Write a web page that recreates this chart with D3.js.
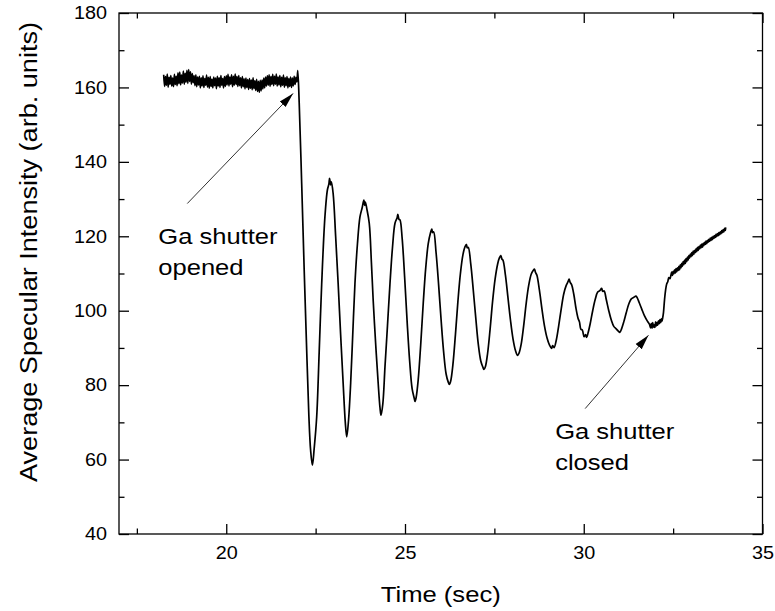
<!DOCTYPE html>
<html>
<head>
<meta charset="utf-8">
<script src="https://cdn.jsdelivr.net/npm/d3@7"></script>
<style>
  html, body { margin: 0; padding: 0; background: #fff; }
  svg { display: block; font-family: "Liberation Sans", Arial, sans-serif; }
</style>
</head>
<body>
<svg id="chart" width="775" height="611"></svg>
<script>
// RHEED specular intensity during growth: [time (s), intensity (arb. units)]
const beforeOpening = [
  [18.250,163.4],[18.275,160.3],[18.300,162.9],[18.325,160.6],[18.350,163.6],[18.375,160.1],
  [18.400,162.7],[18.425,160.9],[18.450,163.2],[18.475,160.4],[18.500,162.5],[18.525,160.2],
  [18.550,163.5],[18.575,160.8],[18.600,163.0],[18.625,160.5],[18.650,163.9],[18.675,161.0],
  [18.700,164.1],[18.725,160.7],[18.750,163.3],[18.775,161.2],[18.800,164.4],[18.825,160.9],
  [18.850,163.8],[18.875,161.4],[18.900,164.6],[18.925,161.1],[18.950,164.8],[18.975,161.6],
  [19.000,164.2],[19.025,160.9],[19.050,163.7],[19.075,161.3],[19.100,163.1],[19.125,160.5],
  [19.150,163.4],[19.175,160.2],[19.200,162.8],[19.225,160.7],[19.250,163.0],[19.275,159.9],
  [19.300,162.6],[19.325,160.4],[19.350,163.1],[19.375,160.0],[19.400,162.4],[19.425,160.6],
  [19.450,163.3],[19.475,160.1],[19.500,162.7],[19.525,159.8],[19.550,162.9],[19.575,160.3],
  [19.600,162.2],[19.625,159.9],[19.650,162.8],[19.675,160.5],[19.700,162.5],[19.725,159.7],
  [19.750,163.0],[19.775,160.4],[19.800,162.6],[19.825,160.0],[19.850,163.2],[19.875,160.6],
  [19.900,162.4],[19.925,159.9],[19.950,162.9],[19.975,160.3],[20.000,163.1],[20.025,160.7],
  [20.050,163.5],[20.075,160.4],[20.100,162.8],[20.125,160.9],[20.150,163.4],[20.175,160.2],
  [20.200,163.0],[20.225,160.6],[20.250,163.6],[20.275,160.8],[20.300,162.9],[20.325,160.3],
  [20.350,163.2],[20.375,160.5],[20.400,162.6],[20.425,159.9],[20.450,162.9],[20.475,160.2],
  [20.500,162.3],[20.525,159.6],[20.550,162.5],[20.575,160.0],[20.600,162.1],[20.625,159.5],
  [20.650,162.4],[20.675,159.8],[20.700,162.0],[20.725,159.4],[20.750,162.6],[20.775,159.7],
  [20.800,161.8],[20.825,159.2],[20.850,162.2],[20.875,158.9],[20.900,161.6],[20.925,158.7],
  [20.950,161.9],[20.975,159.1],[21.000,162.0],[21.025,159.6],[21.050,162.5],[21.075,159.9],
  [21.100,162.8],[21.125,160.4],[21.150,163.1],[21.175,160.6],[21.200,163.4],[21.225,160.3],
  [21.250,162.9],[21.275,160.8],[21.300,163.5],[21.325,160.5],[21.350,163.0],[21.375,160.9],
  [21.400,163.6],[21.425,160.4],[21.450,162.8],[21.475,160.7],[21.500,163.2],[21.525,160.2],
  [21.550,162.7],[21.575,160.6],[21.600,163.3],[21.625,160.1],[21.650,162.6],[21.675,160.5],
  [21.700,162.9],[21.725,159.9],[21.750,162.4],[21.775,160.3],[21.800,162.8],[21.825,160.0],
  [21.850,162.5],[21.875,160.4],[21.900,163.0],[21.925,160.8],[21.950,162.7],[21.975,161.5],
  [22.000,164.5]
];

const growthOscillations = [
  [22.04,156.0],[22.11,134.2],[22.18,111.0],[22.25,89.4],[22.31,72.0],[22.36,62.5],
  [22.41,58.5],[22.46,63.0],[22.53,71.5],[22.60,89.0],[22.67,107.3],[22.76,125.2],
  [22.83,132.5],[22.87,134.0],[22.89,135.6],[22.92,133.8],[22.94,134.6],[22.99,131.5],
  [23.06,120.0],[23.13,107.3],[23.20,93.5],[23.27,80.5],[23.33,70.0],[23.37,66.1],
  [23.42,70.5],[23.48,80.5],[23.54,94.0],[23.60,107.3],[23.67,118.0],[23.74,125.2],
  [23.80,127.6],[23.85,129.7],[23.87,128.3],[23.89,129.2],[23.93,127.5],[24.00,123.5],
  [24.06,113.0],[24.11,102.8],[24.18,91.0],[24.25,80.5],[24.30,74.0],[24.33,71.9],
  [24.38,75.0],[24.44,84.9],[24.51,96.0],[24.58,107.3],[24.65,117.0],[24.72,123.5],
  [24.78,125.0],[24.80,125.9],[24.83,124.6],[24.86,124.4],[24.92,119.5],[24.99,109.0],
  [25.06,97.0],[25.13,86.5],[25.20,79.0],[25.26,76.4],[25.28,75.6],[25.31,76.6],
  [25.37,81.5],[25.44,91.0],[25.51,102.0],[25.58,111.5],[25.65,118.0],[25.71,120.8],
  [25.75,121.9],[25.77,121.0],[25.80,121.2],[25.87,115.5],[25.94,107.0],[26.01,97.5],
  [26.08,89.0],[26.15,83.0],[26.21,80.8],[26.24,80.2],[26.28,81.2],[26.34,85.5],
  [26.41,93.5],[26.48,102.5],[26.55,110.0],[26.62,115.0],[26.68,117.2],[26.72,117.8],
  [26.74,116.9],[26.77,117.0],[26.84,112.5],[26.91,105.5],[26.98,98.0],[27.05,91.0],
  [27.12,86.5],[27.18,84.8],[27.21,84.2],[27.25,85.0],[27.31,88.5],[27.38,95.0],
  [27.45,102.5],[27.52,108.5],[27.59,112.5],[27.64,114.2],[27.68,114.8],[27.71,113.9],
  [27.74,113.6],[27.81,109.5],[27.88,103.5],[27.95,97.5],[28.02,92.5],[28.09,89.3],
  [28.15,88.0],[28.19,88.6],[28.25,91.0],[28.32,96.0],[28.39,102.0],[28.46,106.8],
  [28.53,109.8],[28.59,110.9],[28.62,111.2],[28.65,110.3],[28.69,109.5],[28.76,105.5],
  [28.83,100.5],[28.90,96.0],[28.97,92.8],[29.04,90.8],[29.10,89.9],[29.13,90.6],
  [29.17,90.1],[29.23,92.0],[29.30,96.0],[29.37,100.5],[29.44,104.5],[29.51,106.8],
  [29.56,107.8],[29.59,108.5],[29.62,107.6],[29.66,107.0],[29.72,104.5],[29.78,100.8],
  [29.84,98.0],[29.88,97.0],[29.92,95.0],[29.96,94.8],[30.01,93.0],[30.05,93.6],
  [30.08,92.8],[30.12,94.0],[30.18,96.5],[30.25,100.0],[30.32,103.0],[30.39,105.0],
  [30.45,105.4],[30.50,106.0],[30.53,105.2],[30.57,105.3],[30.63,103.0],[30.70,100.0],
  [30.77,97.5],[30.84,95.8],[30.90,95.2],[30.96,94.6],[31.01,94.2],[31.06,95.2],
  [31.12,97.0],[31.19,99.5],[31.26,101.8],[31.33,103.2],[31.40,103.6],[31.46,103.9],
  [31.50,103.4],[31.55,102.2],[31.62,100.5],[31.70,98.6],[31.78,97.2],[31.84,96.3],
  [31.87,95.4],[31.89,96.6],[31.91,95.3],[31.93,96.8],[31.95,95.6],[31.97,96.2],
  [31.99,95.5],[32.01,97.0],[32.03,95.9],[32.05,96.9],[32.07,96.1],[32.09,97.3],
  [32.11,96.5],[32.13,97.6],[32.15,96.8],[32.17,97.8],[32.19,97.2],[32.21,98.2]
];

const afterClosing = [
  [32.23,99.5],[32.26,103.0],[32.29,105.6],[32.32,107.2],[32.35,107.8],[32.38,108.9],
  [32.41,108.6],[32.44,109.6],[32.46,110.4],[32.48,109.5],[32.50,110.6],[32.52,109.9],
  [32.54,111.0],[32.56,110.1],[32.58,111.3],[32.60,110.4],[32.62,111.5],[32.64,110.8],
  [32.66,111.9],[32.68,111.0],[32.70,112.3],[32.72,111.5],[32.74,112.7],[32.76,111.9],
  [32.78,113.2],[32.80,112.4],[32.82,113.6],[32.84,112.7],[32.86,114.0],[32.88,113.2],
  [32.90,114.4],[32.92,113.6],[32.94,114.8],[32.96,114.1],[32.98,115.2],[33.00,114.5],
  [33.02,115.6],[33.04,114.8],[33.06,116.0],[33.08,115.2],[33.10,116.2],[33.12,115.6],
  [33.14,116.6],[33.16,115.9],[33.18,117.0],[33.20,116.2],[33.22,117.2],[33.24,116.6],
  [33.26,117.6],[33.28,116.9],[33.30,117.9],[33.32,117.1],[33.34,118.1],[33.36,117.5],
  [33.38,118.4],[33.40,117.8],[33.42,118.7],[33.44,118.0],[33.46,118.9],[33.48,118.4],
  [33.50,119.2],[33.52,118.6],[33.54,119.5],[33.56,118.9],[33.58,119.7],[33.60,119.1],
  [33.62,120.0],[33.64,119.4],[33.66,120.2],[33.68,119.7],[33.70,120.5],[33.72,119.9],
  [33.74,120.7],[33.76,120.2],[33.78,121.0],[33.80,120.4],[33.82,121.2],[33.84,120.7],
  [33.86,121.5],[33.88,121.0],[33.90,121.8],[33.92,121.2],[33.94,122.1],[33.96,121.6],
  [33.97,122.4]
];

// axis ticks
const xMajorTicks = [20, 25, 30, 35];
const xMinorTicks = [17.5, 22.5, 27.5, 32.5];
const yMajorTicks = [40, 60, 80, 100, 120, 140, 160, 180];
const yMinorTicks = [50, 70, 90, 110, 130, 150, 170];

const xTitle = "Time (sec)";
const yTitle = "Average Specular Intensity (arb. units)";

// annotation texts
const noteOpenedText = ["Ga shutter", "opened"];
const noteClosedText = ["Ga shutter", "closed"];

// ---- layout ----
const plot = { left: 119, right: 762.5, top: 13, bottom: 534 };
const fontTick = 18, fontNote = 22, fontTitle = 22;

// annotation placement, in data units
const notesLayout = [
  { text: noteOpenedText, at: [18.10, 117.9], tail: [18.91, 128.8], tip: [21.87, 158.4] },
  { text: noteClosedText, at: [29.20, 65.4], tail: [30.04, 73.7], tip: [31.81, 93.4] }
];

const svg = d3.select("#chart");
const x = d3.scaleLinear().domain([17, 35]).range([plot.left, plot.right]);
const y = d3.scaleLinear().domain([40, 180]).range([plot.bottom, plot.top]);

// stretch rendered text a little so glyph widths follow the wide screen rendering
function widen(sel, k) {
  sel.each(function () {
    const w = this.getComputedTextLength();
    d3.select(this).attr("textLength", w * k).attr("lengthAdjust", "spacingAndGlyphs");
  });
}

function styleAxis(g) {
  g.select(".domain").remove();
  g.selectAll(".tick line").attr("stroke", "#000").attr("stroke-width", 1.3);
  g.selectAll(".tick text").attr("fill", "#000").style("font-size", fontTick + "px")
    .style("font-family", '"Liberation Sans", Arial, sans-serif');
}

// bottom axis with labels
const gxb = svg.append("g").attr("transform", `translate(0,${plot.bottom})`)
  .call(d3.axisBottom(x).tickValues(xMajorTicks).tickSize(-10).tickPadding(12.3).tickFormat(d3.format("d")));
styleAxis(gxb);
widen(gxb.selectAll(".tick text"), 1.1);
svg.append("g").attr("transform", `translate(0,${plot.bottom})`)
  .call(d3.axisBottom(x).tickValues(xMinorTicks).tickSize(-5.5).tickFormat(""))
  .call(styleAxis);
// top mirror ticks
svg.append("g").attr("transform", `translate(0,${plot.top})`)
  .call(d3.axisTop(x).tickValues(xMajorTicks).tickSize(-10).tickFormat(""))
  .call(styleAxis);
svg.append("g").attr("transform", `translate(0,${plot.top})`)
  .call(d3.axisTop(x).tickValues(xMinorTicks).tickSize(-5.5).tickFormat(""))
  .call(styleAxis);

// left axis with labels
const gyl = svg.append("g").attr("transform", `translate(${plot.left},0)`)
  .call(d3.axisLeft(y).tickValues(yMajorTicks).tickSize(-10).tickPadding(12).tickFormat(d3.format("d")));
styleAxis(gyl);
widen(gyl.selectAll(".tick text"), 1.1);
svg.append("g").attr("transform", `translate(${plot.left},0)`)
  .call(d3.axisLeft(y).tickValues(yMinorTicks).tickSize(-5.5).tickFormat(""))
  .call(styleAxis);
// right mirror ticks
svg.append("g").attr("transform", `translate(${plot.right},0)`)
  .call(d3.axisRight(y).tickValues(yMajorTicks).tickSize(-10).tickFormat(""))
  .call(styleAxis);
svg.append("g").attr("transform", `translate(${plot.right},0)`)
  .call(d3.axisRight(y).tickValues(yMinorTicks).tickSize(-5.5).tickFormat(""))
  .call(styleAxis);

// frame
svg.append("rect")
  .attr("x", plot.left).attr("y", plot.top)
  .attr("width", plot.right - plot.left).attr("height", plot.bottom - plot.top)
  .attr("fill", "none").attr("stroke", "#000").attr("stroke-width", 1.3);

// intensity trace
const trace = beforeOpening.concat(growthOscillations, afterClosing);
svg.append("path")
  .datum(trace)
  .attr("fill", "none")
  .attr("stroke", "#000")
  .attr("stroke-width", 1.7)
  .attr("stroke-linejoin", "round")
  .attr("d", d3.line().x(d => x(d[0])).y(d => y(d[1])).curve(d3.curveCatmullRom.alpha(0.5)));

// arrowhead marker
svg.append("defs").append("marker")
  .attr("id", "arrowhead")
  .attr("markerUnits", "userSpaceOnUse")
  .attr("markerWidth", 16).attr("markerHeight", 10)
  .attr("viewBox", "0 -5 16 10")
  .attr("refX", 15).attr("refY", 0)
  .attr("orient", "auto")
  .append("path").attr("d", "M0,-4L15,0L0,4Z").attr("fill", "#000");

// annotations
notesLayout.forEach(n => {
  svg.append("line")
    .attr("x1", x(n.tail[0])).attr("y1", y(n.tail[1]))
    .attr("x2", x(n.tip[0])).attr("y2", y(n.tip[1]))
    .attr("stroke", "#333").attr("stroke-width", 1)
    .attr("marker-end", "url(#arrowhead)");
  const t = svg.append("g");
  n.text.forEach((line, i) => {
    t.append("text")
      .attr("x", x(n.at[0]))
      .attr("y", y(n.at[1]) + i * 30.5)
      .style("font-size", fontNote + "px")
      .attr("fill", "#000")
      .text(line);
  });
  widen(t.selectAll("text"), 1.16);
});

// axis titles
svg.append("text")
  .attr("x", (plot.left + plot.right) / 2).attr("y", 602)
  .attr("text-anchor", "middle")
  .style("font-size", fontTitle + "px")
  .attr("textLength", 120).attr("lengthAdjust", "spacingAndGlyphs")
  .text(xTitle);

svg.append("text")
  .attr("transform", `translate(37,252) rotate(-90)`)
  .attr("text-anchor", "middle")
  .style("font-size", "23px")
  .attr("textLength", 460).attr("lengthAdjust", "spacingAndGlyphs")
  .text(yTitle);
</script>
</body>
</html>
